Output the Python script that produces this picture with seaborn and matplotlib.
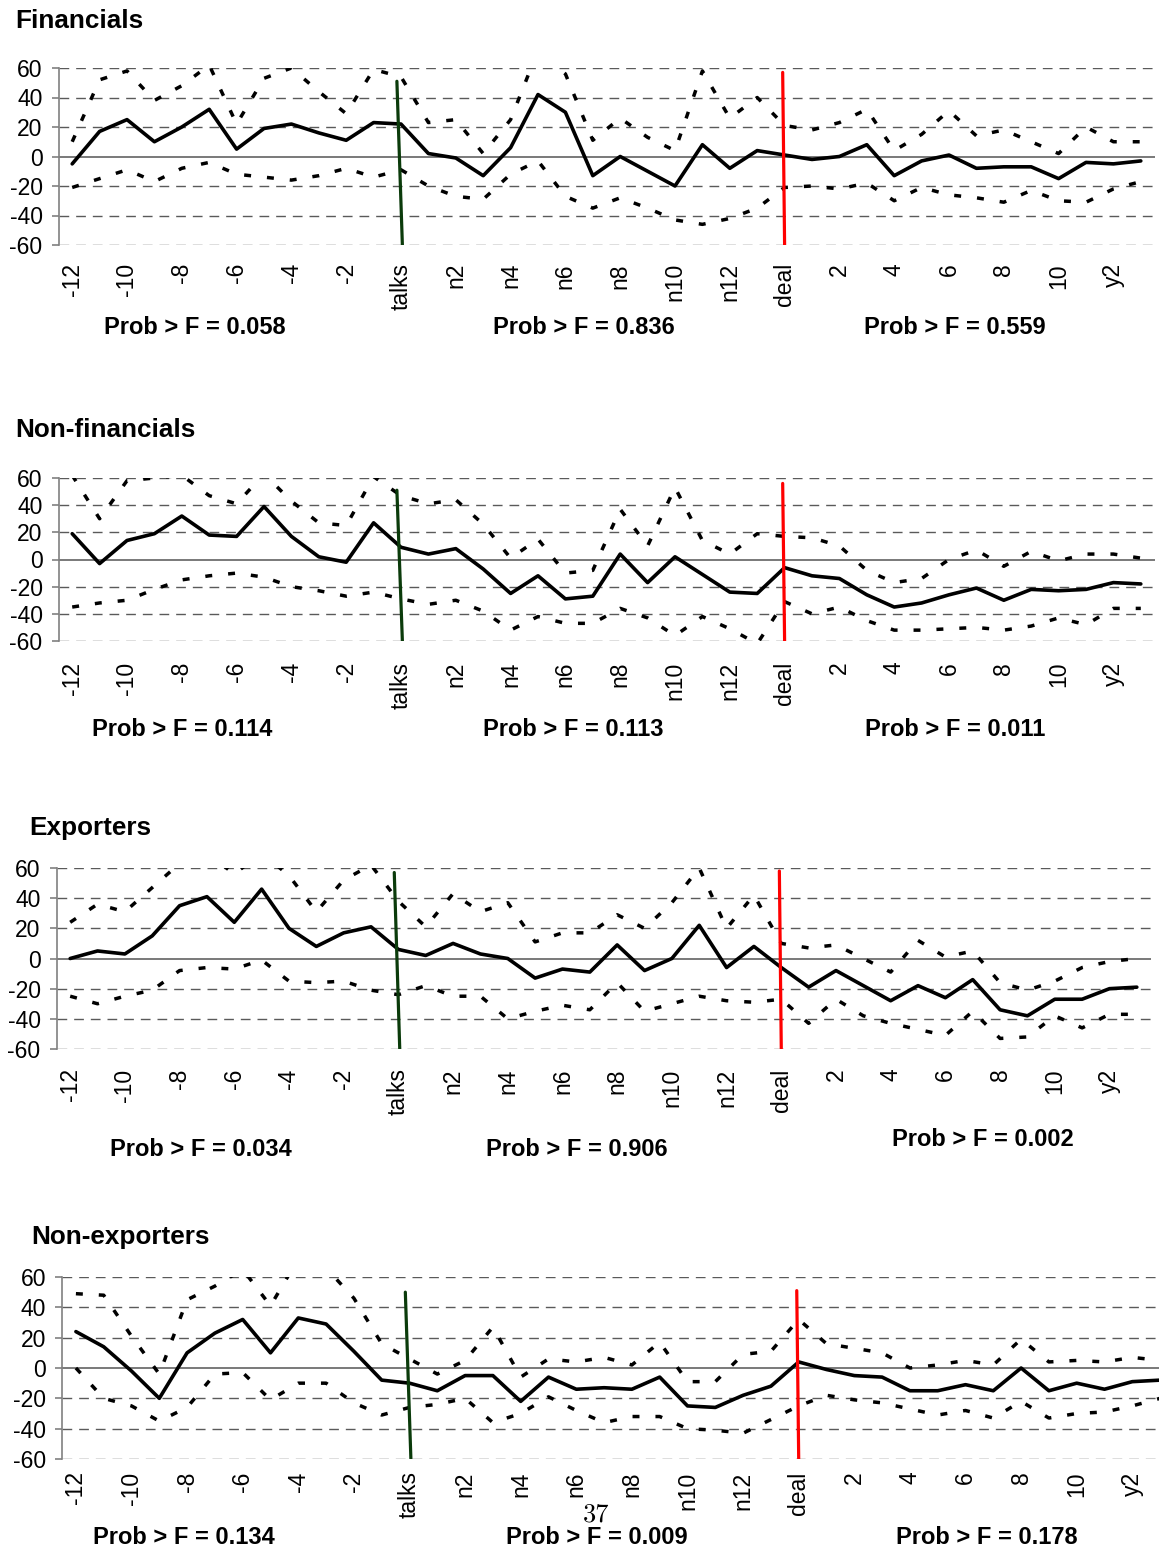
import numpy as np
import pandas as pd
import matplotlib
matplotlib.use('Agg')
import matplotlib.pyplot as plt
import seaborn as sns

### DATOS ###
# categorias del eje x (meses alrededor de las negociaciones y el acuerdo)
categorias = ['-12', '-11', '-10', '-9', '-8', '-7', '-6', '-5', '-4', '-3', '-2', '-1',
              'talks', 'n1', 'n2', 'n3', 'n4', 'n5', 'n6', 'n7', 'n8', 'n9', 'n10', 'n11',
              'n12', 'n13', 'deal', '1', '2', '3', '4', '5', '6', '7', '8', '9', '10',
              'y1', 'y2', 'y3']

# Financials
fin_mid = [-5, 17, 25, 10, 20, 32, 5, 19, 22, 16, 11, 23, 22, 2, -1, -13, 6, 42, 30, -13,
           0, -10, -20, 8, -8, 4, 1, -2, 0, 8, -13, -3, 1, -8, -7, -7, -15, -4, -5, -3]
fin_hi = [10, 52, 58, 38, 48, 62, 22, 53, 60, 44, 29, 59, 54, 23, 25, 2, 25, 72, 56, 11,
          26, 13, 4, 58, 26, 40, 21, 18, 23, 32, 4, 15, 31, 14, 18, 10, 2, 20, 10, 10]
fin_lo = [-21, -15, -9, -17, -8, -4, -12, -14, -16, -13, -8, -14, -9, -20, -27, -29, -12, -3, -27, -35,
          -28, -35, -43, -46, -42, -35, -21, -20, -22, -18, -30, -21, -26, -28, -31, -23, -30, -31, -22, -17]

# Non-financials
nf_mid = [19, -3, 14, 19, 32, 18, 17, 39, 17, 2, -2, 27, 9, 4, 8, -7, -25, -12, -29, -27,
          4, -17, 2, -11, -24, -25, -6, -12, -14, -26, -35, -32, -26, -21, -30, -22, -23, -22, -17, -18]
nf_hi = [62, 30, 58, 60, 62, 47, 41, 63, 43, 27, 25, 61, 47, 41, 44, 26, 1, 15, -10, -8,
         37, 10, 53, 14, 4, 19, 17, 16, 10, -8, -17, -14, 0, 7, -5, 6, -1, 4, 4, 1]
nf_lo = [-35, -32, -30, -22, -15, -12, -10, -13, -20, -23, -27, -24, -29, -33, -30, -38, -52, -42, -47, -47,
         -36, -43, -56, -42, -51, -62, -31, -40, -35, -45, -52, -52, -51, -50, -52, -49, -43, -48, -36, -36]

# Exporters
ex_mid = [0, 5, 3, 15, 35, 41, 24, 46, 20, 8, 17, 21, 6, 2, 10, 3, 0, -13, -7, -9,
          9, -8, 0, 22, -6, 8, -6, -19, -8, -18, -28, -18, -26, -14, -34, -38, -27, -27, -20, -19]
ex_hi = [24, 36, 31, 47, 63, 70, 56, 70, 55, 31, 52, 62, 38, 21, 43, 31, 37, 11, 17, 17,
         29, 20, 37, 60, 20, 42, 10, 7, 9, 0, -9, 12, 1, 5, -16, -21, -15, -6, -2, 0]
ex_lo = [-25, -30, -25, -21, -8, -6, -7, -1, -15, -16, -15, -21, -24, -18, -25, -25, -40, -35, -31, -34,
         -16, -35, -30, -25, -28, -29, -27, -43, -27, -38, -43, -47, -51, -35, -53, -52, -38, -46, -37, -37]

# Non-exporters
nx_mid = [24, 14, -2, -20, 10, 23, 32, 10, 33, 29, 11, -8, -10, -15, -5, -5, -22, -6, -14, -13,
          -14, -6, -25, -26, -18, -12, 4, -1, -5, -6, -15, -15, -11, -15, 0, -15, -10, -14, -9, -8]
nx_hi = [49, 48, 21, -4, 45, 54, 65, 41, 72, 66, 46, 16, 6, -4, 5, 27, -6, 6, 4, 7,
         2, 17, -9, -9, 9, 11, 32, 16, 13, 10, 0, 2, 5, 2, 19, 4, 5, 4, 7, 5]
nx_lo = [0, -20, -25, -35, -26, -4, -3, -21, -10, -10, -23, -31, -26, -24, -20, -36, -30, -19, -28, -36,
         -32, -32, -40, -41, -43, -34, -25, -18, -21, -23, -27, -31, -28, -33, -22, -33, -30, -29, -25, -20]

titulos = ['Financials', 'Non-financials', 'Exporters', 'Non-exporters']
probs = [['0.058', '0.836', '0.559'],
         ['0.114', '0.113', '0.011'],
         ['0.034', '0.906', '0.002'],
         ['0.134', '0.009', '0.178']]
# altura superior de las lineas verticales (talks, deal)
talks_top = [51, 51, 57, 50]
deal_top = [57, 56, 58, 51]

series = [(fin_mid, fin_hi, fin_lo), (nf_mid, nf_hi, nf_lo),
          (ex_mid, ex_hi, ex_lo), (nx_mid, nx_hi, nx_lo)]

### ESTILO ###
sns.set_style('white')
plt.rcParams['font.family'] = ['Liberation Sans', 'DejaVu Sans']
plt.rcParams['text.color'] = 'black'
plt.rcParams['xtick.color'] = 'black'
plt.rcParams['ytick.color'] = 'black'

W, H = 1159, 1552
fig = plt.figure(figsize=(W / 100, H / 100), dpi=100)

# posiciones en pixeles: izquierda, arriba, derecha, abajo
cajas = [(58.5, 68, 1154.5, 245), (58.5, 478, 1154.5, 641),
         (56.5, 868, 1150.5, 1049), (62, 1277, 1174, 1459)]
pad_x = [13, 15, 14, 9]
pos_titulo = [(15, 21), (15, 430), (29, 828), (31, 1237)]
pos_prob = [[(195, 327), (584, 327), (955, 327)],
            [(182, 730), (573, 730), (955, 730)],
            [(201, 1149), (577, 1149), (983, 1140)],
            [(184, 1538), (597, 1538), (987, 1538)]]

pos = np.arange(len(categorias))
i_talks = categorias.index('talks')
i_deal = categorias.index('deal')

for k in range(4):
    l, t, r, b = cajas[k]
    ax = fig.add_axes([l / W, 1 - b / H, (r - l) / W, (b - t) / H])
    ax.set_facecolor('none')
    mid, hi, lo = series[k]
    df = pd.DataFrame({'pos': pos, 'mid': mid, 'hi': hi, 'lo': lo})

    # grilla
    for yv in [-60, -40, -20, 20, 40, 60]:
        ax.axhline(yv, color='#5a5a5a', lw=1.0, linestyle=(0, (7, 5)), zorder=1)
    ax.axhline(0, color='#555555', lw=1.1, zorder=1)

    # intervalos y estimacion
    for col in ['hi', 'lo']:
        sns.lineplot(data=df, x='pos', y=col, ax=ax, color='black', lw=2.5,
                     linestyle=(0, (2.0, 4.6)), dash_capstyle='butt', zorder=3)
    sns.lineplot(data=df, x='pos', y='mid', ax=ax, color='black', lw=2.6, zorder=4)

    # lineas de eventos
    ax.plot([i_talks - 0.15, i_talks + 0.05], [talks_top[k], -60], color='#0b3b0b', lw=2.3, zorder=5)
    ax.plot([i_deal - 0.07, i_deal], [deal_top[k], -60], color='#ff0000', lw=2.3, zorder=5)

    ax.set_xlim(-0.5, len(categorias) - 0.5)
    ax.set_ylim(-60, 60)
    ax.set_yticks(range(-60, 61, 20))
    ax.set_yticklabels([str(v) for v in range(-60, 61, 20)], fontsize=16.5)
    ax.set_xticks(pos[::2])
    ax.set_xticklabels(categorias[::2], rotation=90, fontsize=16.5)
    ax.set_xlabel('')
    ax.set_ylabel('')
    ax.tick_params(axis='x', length=0, pad=pad_x[k])
    ax.tick_params(axis='y', length=5, width=1.2, color='#808080', labelcolor='black', pad=6.5, left=True)
    for s in ['top', 'right', 'bottom']:
        ax.spines[s].set_visible(False)
    ax.spines['left'].set_color('#808080')
    ax.spines['left'].set_linewidth(1.2)

    x0, y0 = pos_titulo[k]
    fig.text(x0 / W, 1 - y0 / H, titulos[k], fontsize=18.8, fontweight='bold', ha='left', va='center')
    for (px, py), p in zip(pos_prob[k], probs[k]):
        fig.text(px / W, 1 - py / H, 'Prob > F = ' + p, fontsize=17, fontweight='bold',
                 ha='center', va='center')

fig.text(596 / W, 1 - 1515 / H, '37', fontsize=19, family=['cmr10', 'DejaVu Serif'],
         ha='center', va='center')

plt.savefig('out.png', dpi=100)
